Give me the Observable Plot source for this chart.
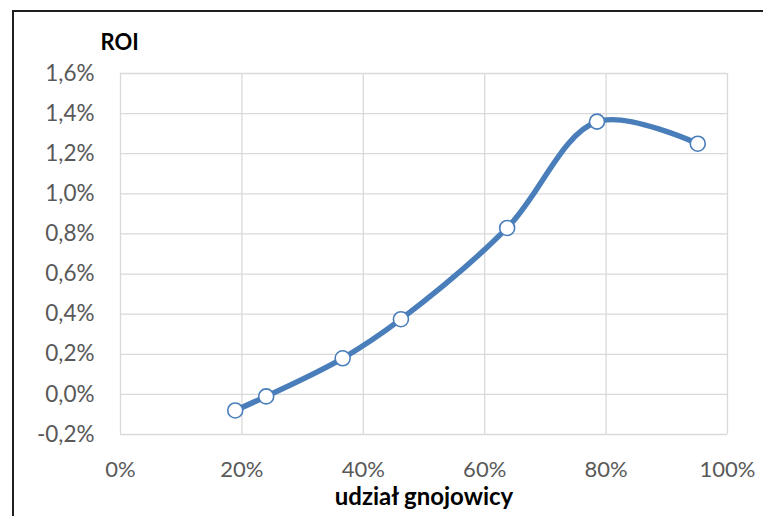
<!DOCTYPE html>
<html>
<head>
<meta charset="utf-8">
<script src="https://cdn.jsdelivr.net/npm/d3@7"></script>
<script src="https://cdn.jsdelivr.net/npm/@observablehq/plot@0.6"></script>
<style>
  html, body { margin: 0; padding: 0; background: #fff; overflow: hidden; }
  #wrap { position: relative; width: 763px; height: 516px; }
  #wrap svg { position: absolute; left: 0; top: 0; }
  #border { position: absolute; left: 12px; top: 10px; width: 2000px; height: 2000px;
            border-left: 2px solid #1f1f1f; border-top: 2px solid #1f1f1f; pointer-events: none; }
</style>
</head>
<body>
<div id="wrap"><div id="border"></div></div>
<script>
// Data
const share = [18.9, 24.0, 36.6, 46.2, 63.7, 78.5, 95.1];   // udział gnojowicy, %
const roi   = [-0.08, -0.01, 0.18, 0.375, 0.83, 1.36, 1.25]; // ROI, %
const xTicks = [0, 20, 40, 60, 80, 100];
const yTicks = [-0.2, 0, 0.2, 0.4, 0.6, 0.8, 1.0, 1.2, 1.4, 1.6];
const yTitle = "ROI";
const xTitle = "udział gnojowicy";

const data = share.map((s, i) => ({share: s, roi: roi[i]}));
const blue = "#4a7ebb";
const fmtY = d => d.toFixed(1).replace(".", ",") + "%";
const fmtX = d => d + "%";

const chart = Plot.plot({
  width: 763,
  height: 516,
  marginLeft: 120,
  marginRight: 36,
  marginTop: 73,
  marginBottom: 82,
  style: {fontFamily: "Lato, 'Open Sans', sans-serif", background: "transparent", overflow: "visible"},
  x: {domain: [0, 100]},
  y: {domain: [-0.2, 1.6]},
  marks: [
    Plot.gridX(xTicks, {stroke: "#d9d9d9", strokeOpacity: 1, strokeWidth: 1.3}),
    Plot.gridY(yTicks, {stroke: "#d9d9d9", strokeOpacity: 1, strokeWidth: 1.3}),
    Plot.axisX(xTicks, {tickSize: 0, tickPadding: 27, tickFormat: fmtX, fontSize: 22, fill: "#595959", label: null}),
    Plot.axisY(yTicks, {tickSize: 0, tickPadding: 26, tickFormat: fmtY, fontSize: 22.5, fill: "#595959", label: null}),
    Plot.line(data, {x: "share", y: "roi", curve: "catmull-rom", stroke: blue, strokeWidth: 5.5, strokeLinecap: "round", strokeLinejoin: "round"}),
    Plot.dot(data, {x: "share", y: "roi", r: 7.5, fill: "white", stroke: blue, strokeWidth: 1.6}),
    Plot.text([yTitle], {frameAnchor: "top-left", textAnchor: "start", dx: -20, dy: -39.5, fontSize: 22, fontWeight: "bold", fill: "#000"}),
    Plot.text([xTitle], {frameAnchor: "bottom", dy: 70, fontSize: 24, fontWeight: "bold", fill: "#000"})
  ]
});
document.getElementById("wrap").prepend(chart);
</script>
</body>
</html>
